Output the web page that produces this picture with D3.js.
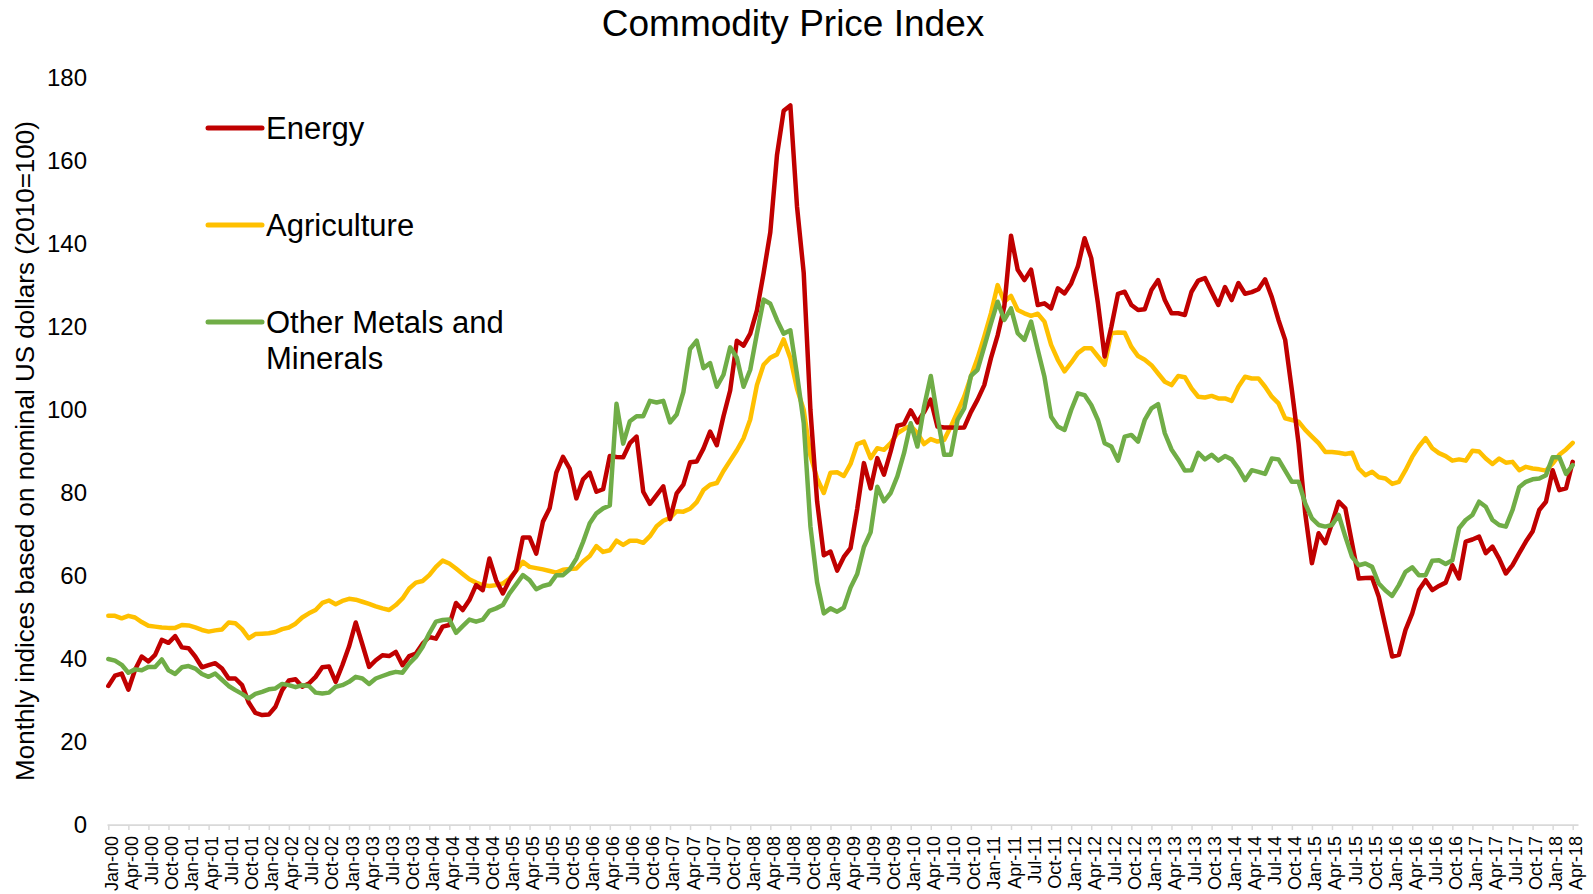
<!DOCTYPE html>
<html><head><meta charset="utf-8">
<script src="https://cdn.jsdelivr.net/npm/d3@7"></script>
<style>
body{margin:0;background:#fff;}
svg{display:block;}
text{font-family:"Liberation Sans",Arial,Helvetica,sans-serif;fill:#000;}
</style>
</head><body>
<svg id="chart" width="1593" height="894"></svg>
<script>
const monthNames = ["Jan","Feb","Mar","Apr","May","Jun","Jul","Aug","Sep","Oct","Nov","Dec"];
const firstYear = 2000;
const monthCount = 220; // Jan-00 .. Apr-18
const categories = [];
for (let i = 0; i < monthCount; i++) {
  const yr = firstYear + Math.floor(i / 12);
  categories.push(monthNames[i % 12] + "-" + String(yr % 100).padStart(2, "0"));
}
const tickCategories = categories.filter((d, i) => i % 3 === 0);
const yTicks = [0, 20, 40, 60, 80, 100, 120, 140, 160, 180];

const energy = [
33.5,36.0,36.5,32.6,37.4,40.6,39.4,41.0,44.6,43.9,45.5,42.8,
42.6,40.6,38.0,38.5,39.0,37.7,35.3,35.3,33.7,29.5,27.0,26.5,
26.6,28.5,32.5,34.8,35.1,33.3,34.1,35.7,38.0,38.2,34.5,38.5,
43.0,48.8,43.5,38.1,39.7,40.9,40.7,41.7,38.5,40.7,41.3,43.7,
45.3,44.9,47.8,48.2,53.5,51.8,54.2,57.8,56.6,64.2,59.0,55.8,
59.0,61.4,69.3,69.3,65.4,73.1,76.3,84.9,88.7,85.9,78.7,83.3,
84.9,80.3,80.9,88.9,88.7,88.6,92.0,93.6,80.3,77.4,79.5,81.6,
73.7,79.9,82.0,87.4,87.6,90.7,94.8,91.5,98.5,104.7,116.7,115.5,
118.4,124.0,133.0,142.8,161.4,172.1,173.4,149.0,133.0,100.0,78.0,65.0,
65.9,61.3,64.6,66.7,76.2,87.2,81.1,88.4,84.4,90.0,96.2,96.6,
99.9,97.0,99.5,102.5,96.0,95.8,95.8,95.7,95.8,99.5,102.5,106.0,
112.5,118.0,125.0,142.0,133.8,131.3,133.8,125.3,125.7,124.5,129.3,128.1,
130.5,134.6,141.4,136.6,125.7,112.9,120.0,128.0,128.5,125.3,124.1,124.3,
128.9,131.3,126.5,123.3,123.3,122.9,128.5,131.2,131.8,128.5,125.3,129.6,
126.5,130.6,128.0,128.4,129.1,131.5,127.2,121.7,116.9,104.8,92.0,75.1,
63.1,70.3,67.9,72.7,77.9,76.3,67.9,59.4,59.5,59.6,55.0,47.8,
40.6,41.0,47.0,51.0,56.6,59.0,56.6,57.6,58.4,62.6,59.4,68.3,
68.8,69.5,65.5,67.1,64.2,60.6,62.6,65.5,68.3,70.7,75.9,77.9,
85.5,80.7,81.1,87.5
];

const agriculture = [
50.4,50.4,49.8,50.4,50.0,48.9,48.0,47.8,47.6,47.5,47.5,48.2,
48.1,47.6,47.0,46.6,46.9,47.1,48.8,48.6,47.2,45.0,46.0,46.1,
46.2,46.5,47.2,47.6,48.5,50.0,51.0,51.8,53.5,54.1,53.2,54.0,
54.5,54.3,53.8,53.3,52.7,52.2,51.8,53.0,54.6,57.0,58.4,58.8,
60.2,62.2,63.7,63.0,61.8,60.5,59.2,58.4,57.8,57.6,57.8,58.2,
59.4,61.3,63.4,62.2,61.9,61.6,61.2,60.8,61.5,61.7,61.8,63.5,
64.8,67.2,65.8,66.2,68.5,67.5,68.5,68.5,68.0,69.6,72.0,73.3,
74.0,75.6,75.5,76.2,77.8,80.7,82.0,82.4,85.3,87.8,90.3,93.2,
97.7,106.0,110.9,112.6,113.4,117.0,112.5,105.1,100.0,89.0,83.5,80.0,
84.9,85.0,84.1,87.0,91.8,92.4,88.4,90.8,90.4,92.0,94.4,95.4,
96.2,94.4,91.8,93.0,92.4,92.8,96.0,99.6,103.2,108.0,112.5,117.7,
123.3,130.1,126.1,127.5,124.1,123.3,122.7,123.2,121.3,115.7,112.1,109.3,
111.4,113.7,114.9,114.9,112.9,110.9,118.5,118.7,118.6,115.2,113.0,112.1,
110.8,108.8,106.8,106.0,108.2,107.9,105.2,103.2,103.0,103.4,102.8,102.8,
102.2,105.6,108.0,107.6,107.6,105.6,103.2,101.6,98.0,97.6,97.2,95.2,
93.6,92.0,89.9,89.9,89.7,89.4,89.7,85.9,84.3,85.1,83.8,83.5,
82.2,82.7,85.5,88.7,91.2,93.2,90.8,89.6,88.9,87.8,88.1,87.8,
90.2,90.0,88.3,87.0,88.3,87.3,87.5,85.5,86.3,85.9,85.7,85.4,
87.1,89.2,90.5,92.1
];

const metals = [
40.0,39.6,38.6,36.7,37.5,37.3,38.1,38.1,39.9,37.3,36.4,38.0,
38.3,37.7,36.4,35.7,36.5,35.0,33.5,32.5,31.6,30.5,31.6,32.1,
32.7,32.9,34.0,33.7,33.2,33.7,33.5,31.9,31.7,31.9,33.3,33.7,
34.5,35.7,35.3,34.0,35.3,35.9,36.5,36.9,36.7,38.9,40.5,42.9,
46.2,49.0,49.4,49.5,46.3,47.9,49.5,49.0,49.5,51.6,52.2,53.0,
55.8,58.0,60.2,59.0,56.8,57.6,58.0,60.2,60.2,61.6,64.2,68.2,
72.7,75.1,76.3,77.0,101.5,91.9,97.3,98.5,98.5,102.2,101.8,102.2,
97.0,98.9,104.3,114.7,116.7,110.1,111.3,105.6,108.5,115.1,112.6,105.6,
109.7,118.4,126.6,125.6,121.7,118.4,119.2,108.5,96.9,72.0,58.5,51.0,
52.2,51.4,52.4,57.2,60.5,67.0,70.5,81.5,78.0,80.0,84.0,89.6,
96.8,91.2,100.8,108.2,98.4,89.2,89.2,97.6,100.4,108.2,109.7,115.3,
120.9,126.1,121.7,124.5,118.5,116.9,121.3,114.5,108.0,98.4,96.0,95.2,
100.0,104.0,103.6,101.2,97.6,92.0,91.2,87.8,93.6,94.0,92.4,97.6,
100.4,101.4,94.4,90.5,88.1,85.4,85.5,89.7,88.1,89.2,87.8,88.9,
88.1,85.9,83.1,85.5,85.1,84.6,88.3,88.1,85.4,82.7,82.7,77.5,
73.9,72.3,71.9,72.3,74.7,69.5,64.6,62.6,63.0,62.2,58.2,56.5,
55.2,57.8,61.0,62.1,60.2,60.2,63.7,63.8,62.9,63.8,71.5,73.5,
74.7,77.9,76.7,73.5,72.3,71.9,75.9,81.4,82.7,83.3,83.5,84.3,
88.6,88.6,84.6,86.7
];

const seriesValues = [agriculture, energy, metals];
const seriesColors = ["#FFC000", "#C00000", "#70AD47"];

const legendNames = ["Energy", "Agriculture", "Other Metals and Minerals"];
const legendColors = ["#C00000", "#FFC000", "#70AD47"];

const svg = d3.select("#chart");

const x = d3.scalePoint().domain(categories).range([108.3, 1572.7]);
const y = d3.scaleLinear().domain([0, 180]).range([825, 78]);

// Title
svg.append("text")
  .attr("x", 793).attr("y", 23)
  .attr("text-anchor", "middle").attr("dominant-baseline", "central")
  .style("font-size", "37px")
  .text("Commodity Price Index");

// Y axis labels
const yAxis = d3.axisLeft(y).tickValues(yTicks).tickSize(0).tickPadding(0);
const gy = svg.append("g").attr("transform", "translate(87,0)").call(yAxis);
gy.select(".domain").remove();
gy.selectAll("text").style("font-size", "24px").style("font-family", '"Liberation Sans",Arial,sans-serif').attr("fill", "#000");

// Y title
svg.append("text")
  .attr("transform", "translate(33.5,451) rotate(-90)")
  .attr("text-anchor", "middle")
  .style("font-size", "26px")
  .text("Monthly indices based on nominal US dollars (2010=100)");

// X axis
svg.append("line")
  .attr("x1", 107.5).attr("x2", 1578.5)
  .attr("y1", 825).attr("y2", 825)
  .attr("stroke", "#d9d9d9").attr("stroke-width", 1.75);

const xAxis = d3.axisBottom(x).tickValues(tickCategories).tickSize(5).tickPadding(0);
const gx = svg.append("g").attr("transform", "translate(0,825)").call(xAxis);
gx.select(".domain").remove();
gx.selectAll(".tick line").attr("stroke", "#d9d9d9").attr("stroke-width", 1.5);
gx.selectAll(".tick text")
  .attr("transform", "translate(9,11) rotate(-90)")
  .attr("x", 0).attr("y", 0).attr("dy", 0)
  .attr("text-anchor", "end")
  .attr("fill", "#000")
  .style("font-size", "18px")
  .style("font-family", '"Liberation Sans",Arial,sans-serif');

// Lines
const line = d3.line()
  .x((d, i) => x(categories[i]))
  .y(d => y(d))
  .curve(d3.curveLinear);

svg.append("g").selectAll("path")
  .data(seriesValues)
  .join("path")
  .attr("d", d => line(d))
  .attr("fill", "none")
  .attr("stroke", (d, i) => seriesColors[i])
  .attr("stroke-width", 4.5)
  .attr("stroke-linejoin", "round")
  .attr("stroke-linecap", "round");

// Legend
const legendY = [128, 225, 322];
const lg = svg.append("g");
legendNames.forEach((name, i) => {
  lg.append("line")
    .attr("x1", 208).attr("x2", 262)
    .attr("y1", legendY[i]).attr("y2", legendY[i])
    .attr("stroke", legendColors[i]).attr("stroke-width", 5)
    .attr("stroke-linecap", "round");
});
lg.append("text").attr("x", 266).attr("y", 128).attr("dominant-baseline", "central")
  .style("font-size", "31px").text(legendNames[0]);
lg.append("text").attr("x", 266).attr("y", 225).attr("dominant-baseline", "central")
  .style("font-size", "31px").text(legendNames[1]);
const t3 = lg.append("text").attr("x", 266).attr("y", 322).attr("dominant-baseline", "central")
  .style("font-size", "31px");
t3.append("tspan").attr("x", 266).attr("dy", 0).text("Other Metals and");
t3.append("tspan").attr("x", 266).attr("dy", 36).text("Minerals");
</script>
</body></html>
